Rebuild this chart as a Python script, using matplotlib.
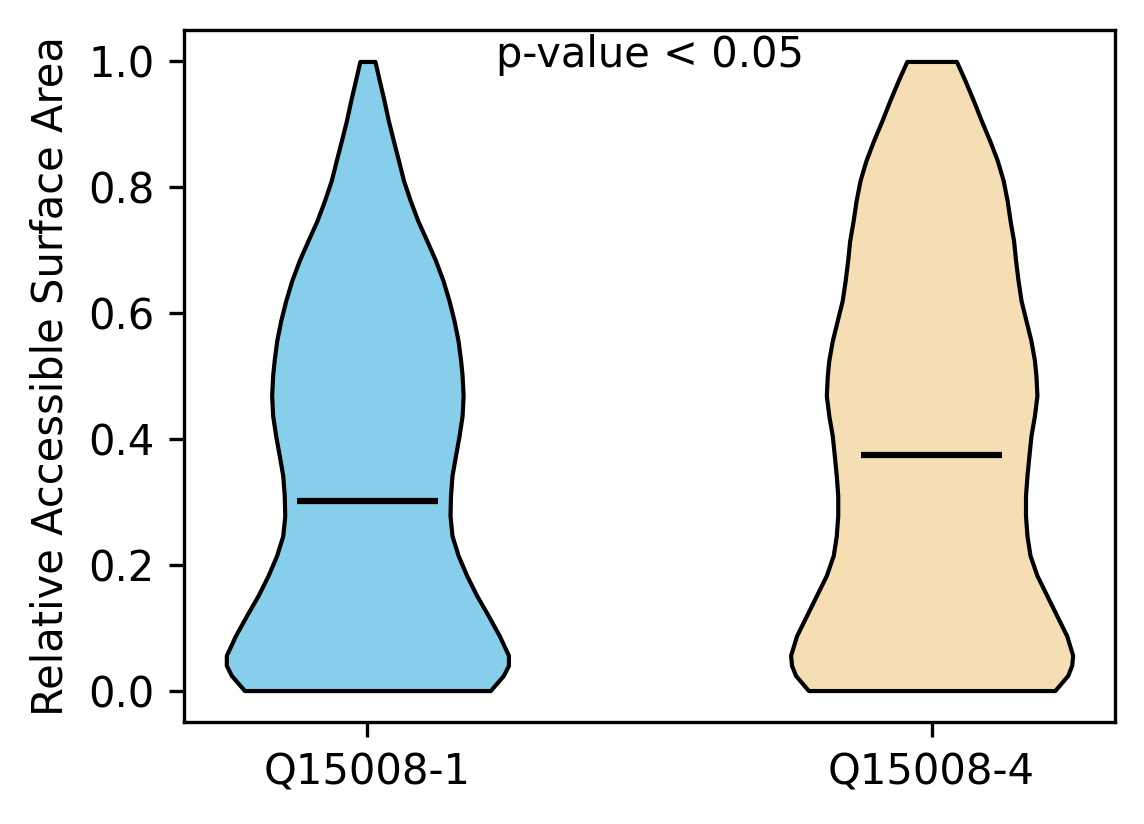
import numpy as np
import matplotlib
matplotlib.use("Agg")
import matplotlib.pyplot as plt

labels = ["Q15008-1", "Q15008-4"]
medians = [0.302, 0.375]
colors = ["skyblue", "wheat"]

# density profile (relative half-width at each RSA value)
rsa = [0.0, 0.024, 0.040, 0.056, 0.087, 0.119, 0.151, 0.183, 0.215, 0.246, 0.278,
       0.310, 0.342, 0.374, 0.405, 0.437, 0.469, 0.501, 0.525, 0.556, 0.588, 0.620,
       0.652, 0.684, 0.715, 0.747, 0.779, 0.811, 0.843, 0.874, 0.906, 0.938, 0.970, 1.0]
dens_1 = [122, 135, 140, 140, 131, 120, 108.5, 98.5, 90, 84, 82,
          82.5, 84, 87.5, 91, 94, 95, 94, 92.5, 90, 86, 81,
          75, 67.5, 59, 50, 42.5, 35.8, 30.8, 25.8, 20.8, 16.5, 11.8, 7.5]
dens_2 = [124, 137, 141, 142, 136, 126, 116, 106, 99, 96, 94.5,
          94.5, 96, 98, 100, 103.5, 106, 105, 103.5, 100, 95, 90,
          87, 84.5, 82.5, 79, 76, 72, 66, 58.5, 50, 42, 33.5, 25]

stats_list = []
for dens, med in [(dens_1, medians[0]), (dens_2, medians[1])]:
    stats_list.append({
        "coords": np.array(rsa),
        "vals": np.array(dens, dtype=float),
        "mean": med,
        "median": med,
        "min": min(rsa),
        "max": max(rsa),
    })

fig = plt.figure(figsize=(1144 / 300, 824 / 300), dpi=300)
ax = fig.add_axes([184 / 1144, 1 - 722 / 824, (1115 - 184) / 1144, (722 - 30) / 824])

parts = ax.violin(stats_list, positions=[1, 2], widths=0.5,
                  showmeans=False, showextrema=False, showmedians=True)
for body, c in zip(parts["bodies"], colors):
    body.set_facecolor(c)
    body.set_edgecolor("black")
    body.set_linewidth(1.0)
    body.set_alpha(1)
parts["cmedians"].set_color("black")
parts["cmedians"].set_linewidth(1.5)

ax.set_xticks([1, 2])
ax.set_xticklabels(labels)
ax.set_ylabel("Relative Accessible Surface Area")
ax.text(1.5, 0.991, "p-value < 0.05", ha="center", va="baseline")

fig.savefig("out.png", dpi=300)
